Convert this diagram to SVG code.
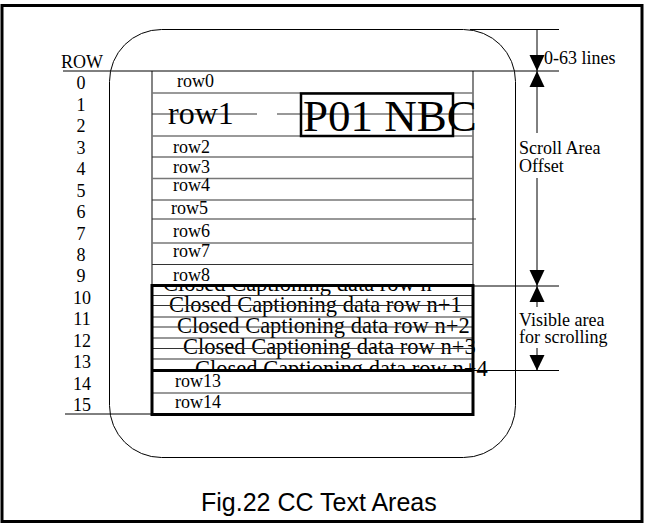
<svg xmlns="http://www.w3.org/2000/svg" width="645" height="524" viewBox="0 0 645 524">
<style>
.t{font-family:"Liberation Serif","Times New Roman",serif;fill:#000}
.s18{font-size:18px}
.cc{font-size:22.5px}
.ln{stroke:#333;stroke-width:1.2;fill:none}
.gl{stroke:#777;stroke-width:1.5;fill:none}
.thin{stroke:#000;stroke-width:1;fill:none}
.thick{stroke:#000;stroke-width:3;fill:none}
.ah{fill:#000;stroke:none}
.cap{font-family:"Liberation Sans",Arial,sans-serif;font-size:25px;fill:#000}
</style>
<defs>
<clipPath id="ccclip">
<rect x="152" y="286" width="321" height="84.5"/>
<rect x="473" y="286" width="120" height="110"/>
</clipPath>
</defs>
<rect x="2" y="5.5" width="640" height="516" fill="#fff" stroke="#000" stroke-width="3"/>
<g id="screen">
<rect x="109.5" y="29.5" width="406" height="428" rx="52" ry="52" fill="none" stroke="#000" stroke-width="1"/>
</g>
<g id="row-numbers" class="t s18" text-anchor="middle">
<text x="82" y="68">ROW</text>
<text x="81" y="89">0</text>
<text x="81" y="110.5">1</text>
<text x="81" y="132">2</text>
<text x="81" y="153.5">3</text>
<text x="81" y="175">4</text>
<text x="81" y="196.5">5</text>
<text x="81" y="218">6</text>
<text x="81" y="239.5">7</text>
<text x="81" y="261">8</text>
<text x="81" y="282">9</text>
<text x="82" y="303.5">10</text>
<text x="82" y="325">11</text>
<text x="82" y="346.5">12</text>
<text x="82" y="368">13</text>
<text x="82" y="389.5">14</text>
<text x="82" y="411">15</text>
</g>
<g id="cc-rows" clip-path="url(#ccclip)" class="t cc">
<text x="163" y="291">Closed Captioning data row n</text>
<text x="169" y="312">Closed Captioning data row n+1</text>
<text x="177" y="333">Closed Captioning data row n+2</text>
<text x="183" y="354">Closed Captioning data row n+3</text>
<text x="195" y="376">Closed Captioning data row n+4</text>
</g>
<g id="table">
<line class="ln" x1="152" y1="71" x2="152" y2="286"/>
<line class="ln" x1="473" y1="71" x2="473" y2="286"/>
<line class="gl" x1="152" y1="93" x2="473" y2="93"/>
<line class="ln" x1="152" y1="114" x2="257" y2="114"/>
<line class="ln" x1="277" y1="114" x2="473" y2="114"/>
<line class="gl" x1="152" y1="136" x2="473" y2="136"/>
<line class="ln" x1="152" y1="157" x2="473" y2="157"/>
<line class="gl" x1="152" y1="178.5" x2="473" y2="178.5"/>
<line class="ln" x1="152" y1="200" x2="473" y2="200"/>
<line class="ln" x1="152" y1="219" x2="476" y2="219"/>
<line class="gl" x1="152" y1="243" x2="473" y2="243"/>
<line class="ln" x1="152" y1="264.5" x2="473" y2="264.5"/>
<line class="ln" x1="152" y1="295.5" x2="473" y2="295.5"/>
<line class="ln" x1="152" y1="305.5" x2="473" y2="305.5"/>
<line class="ln" x1="152" y1="317" x2="473" y2="317"/>
<line class="ln" x1="152" y1="327" x2="473" y2="327"/>
<line class="ln" x1="152" y1="338" x2="473" y2="338"/>
<line class="ln" x1="152" y1="348.5" x2="473" y2="348.5"/>
<line class="ln" x1="152" y1="359" x2="473" y2="359"/>
<line class="gl" x1="152" y1="393" x2="473" y2="393"/>
<line class="thick" x1="152" y1="370.5" x2="473" y2="370.5"/>
<rect class="thick" x="152" y="285.5" width="321" height="129"/>
<line class="thin" x1="63" y1="71" x2="559" y2="71"/>
<line class="thin" x1="65" y1="414" x2="152" y2="414"/>
</g>
<g id="row-labels" class="t s18">
<text x="177" y="87">row0</text>
<text x="168" y="124" font-size="32">row1</text>
<text x="173" y="153">row2</text>
<text x="173" y="173">row3</text>
<text x="173" y="191">row4</text>
<text x="171" y="214">row5</text>
<text x="173" y="237">row6</text>
<text x="173" y="257">row7</text>
<text x="173" y="281">row8</text>
<text x="175" y="387">row13</text>
<text x="175" y="408">row14</text>
</g>
<g id="station-id">
<rect x="301" y="93.5" width="152" height="42.5" fill="none" stroke="#000" stroke-width="2.5"/>
<text class="t" x="303" y="131" font-size="45">P01 NBC</text>
</g>
<g id="connectors">
<line class="thin" x1="470" y1="29.5" x2="559" y2="29.5"/>
<line class="thin" x1="473" y1="286" x2="559" y2="286"/>
<line class="thin" x1="473" y1="370.5" x2="559" y2="370.5"/>
<line class="thin" x1="537" y1="29.5" x2="537" y2="133"/>
<line class="thin" x1="537" y1="178" x2="537" y2="307"/>
<line class="thin" x1="537" y1="348" x2="537" y2="370"/>
<polygon class="ah" points="529.5,55 544.5,55 537,71"/>
<polygon class="ah" points="537,71 529.5,87 544.5,87"/>
<polygon class="ah" points="529.5,270 544.5,270 537,286"/>
<polygon class="ah" points="537,286 529.5,302 544.5,302"/>
<polygon class="ah" points="529.5,355 544.5,355 537,370.5"/>
</g>
<g id="dimension-labels" class="t s18">
<text x="544" y="64">0-63 lines</text>
<text x="519" y="154">Scroll Area</text>
<text x="519" y="172">Offset</text>
<text x="519" y="326">Visible area</text>
<text x="519" y="343">for scrolling</text>
</g>
<g id="caption">
<text class="cap" x="201" y="511">Fig.22 CC Text Areas</text>
</g>
</svg>
